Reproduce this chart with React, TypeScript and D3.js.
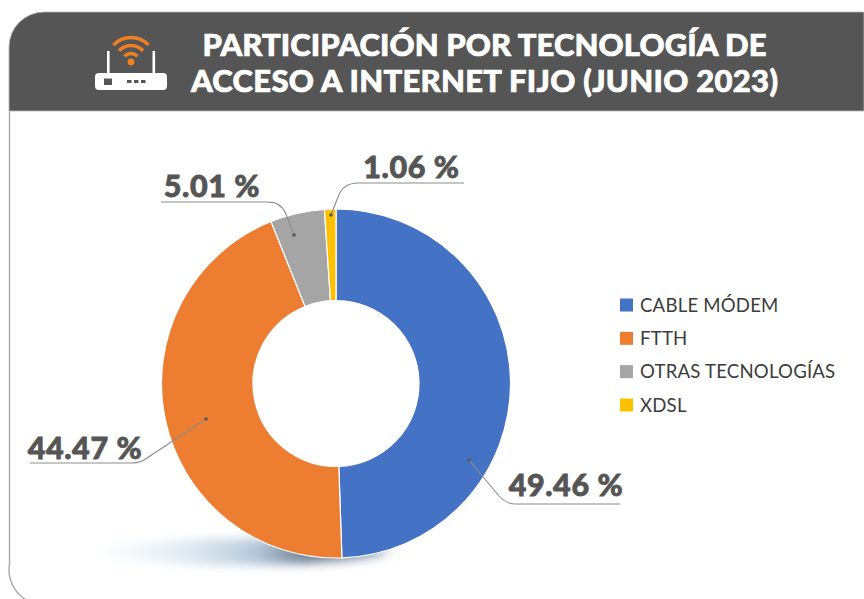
import React from "react";
import * as d3 from "d3";

const categories = ["CABLE MÓDEM", "FTTH", "OTRAS TECNOLOGÍAS", "XDSL"];
const shares = [49.46, 44.47, 5.01, 1.06];
const shareLabels = ["49.46 %", "44.47 %", "5.01 %", "1.06 %"];
const palette = ["#4472C4", "#ED7D31", "#A5A5A5", "#FFC000"];
const titleLines = ["PARTICIPACIÓN POR TECNOLOGÍA DE", "ACCESO A INTERNET FIJO (JUNIO 2023)"];

const W = 864, H = 599;
const cx = 336, cy = 383.5, R = 174.5, r0 = 83;
const ink = "#555555";
const titleWidths = [564, 587];

// Leader layout per slice: anchor dot, elbow, end of rule, text position
const leaders = [
  { d: "M469 460 L499 496 Q506 504 516 504 L620 504", x0: 469, y0: 460, tx: 566, ty: 496 },
  { d: "M206 419 L147 458 Q141 463 132 463 L30 463", x0: 206, y0: 419, tx: 85, ty: 459 },
  { d: "M294 235 L286 214 Q281 202 268 202 L161 202", x0: 294, y0: 235, tx: 212, ty: 197 },
  { d: "M331 215 L338 197 Q343 183 358 183 L464 183", x0: 331, y0: 215, tx: 411.5, ty: 178 },
];

export default function App() {
  const pie = d3.pie<number>().value((d) => d).sort(null);
  const arc = d3.arc<d3.PieArcDatum<number>>().innerRadius(r0).outerRadius(R);
  const arcs = pie(shares);
  const wifi = d3.arc();
  const wifiSpec = [
    { rad: 8.5, a: 0.85 },
    { rad: 16.5, a: 0.82 },
    { rad: 24.5, a: 0.8 },
  ];
  const wifiArcs = wifiSpec.map((s) =>
    wifi({ innerRadius: s.rad - 1.8, outerRadius: s.rad + 1.8, startAngle: -s.a, endAngle: s.a } as any)
  );
  const legendY = d3.scalePoint<string>().domain(categories).range([305, 405]);

  return (
    <svg
      width={W}
      height={H}
      viewBox={`0 0 ${W} ${H}`}
      style={{ position: "absolute", left: 0, top: 0, background: "#fff" }}
    >
      <defs>
        <linearGradient id="shadow" x1="0" x2="1" y1="0" y2="0">
          <stop offset="0" stopColor="#d5e3ef" stopOpacity="0.05" />
          <stop offset="0.3" stopColor="#b9cfe2" stopOpacity="0.4" />
          <stop offset="0.55" stopColor="#98b2c9" stopOpacity="0.7" />
          <stop offset="0.72" stopColor="#66798c" stopOpacity="0.95" />
          <stop offset="1" stopColor="#6d86a0" stopOpacity="0.7" />
        </linearGradient>
        <filter id="blur" x="-20%" y="-100%" width="140%" height="300%">
          <feGaussianBlur stdDeviation="8 5" />
        </filter>
      </defs>

      {/* frame */}
      <path
        d={`M9.5 111 V${H - 35} A35 35 0 0 0 33 ${H + 4}`}
        fill="none"
        stroke="#a8a8a8"
        strokeWidth={1.4}
      />
      <path d={`M9 111 V47 A35 35 0 0 1 44 12 H${W} V111 Z`} fill="#555555" stroke="#b5b5b5" strokeWidth={0.8} />

      {/* router icon */}
      <g>
        <rect x={95} y={73} width={72} height={17} rx={4} fill="#fff" />
        <rect x={107} y={51} width={2.6} height={24} fill="#fff" />
        <rect x={152.5} y={51} width={2.6} height={24} fill="#fff" />
        <rect x={104} y={78.5} width={8} height={6.5} fill="#555555" />
        {[127, 134, 141].map((x) => (
          <rect key={x} x={x} y={80} width={4.5} height={3} fill="#555555" />
        ))}
        <g transform="translate(131,62)" fill="#EE7F22">
          <circle r={3.4} />
          {wifiArcs.map((p, i) => (
            <path key={i} d={p as string} />
          ))}
        </g>
      </g>

      {titleLines.map((t, i) => (
        <text
          key={t}
          x={484.5}
          y={55.5 + i * 36}
          textAnchor="middle"
          textLength={titleWidths[i]}
          lengthAdjust="spacing"
          fill="#fff"
          stroke="#fff"
          strokeWidth={0.7}
          fontFamily="Lato"
          fontWeight={900}
          fontSize={31}
        >
          {t}
        </text>
      ))}

      {/* ground shadow */}
      <ellipse cx={240} cy={552} rx={146} ry={13} fill="url(#shadow)" filter="url(#blur)" />

      {/* ring */}
      {arcs.map((a, i) => (
        <path
          key={categories[i]}
          d={arc(a) as string}
          transform={`translate(${cx},${cy})`}
          fill={palette[i]}
          stroke="#fff"
          strokeWidth={1.2}
        />
      ))}

      {/* leaders and labels */}
      {leaders.map((l, i) => (
        <g key={shareLabels[i]}>
          <path d={l.d} fill="none" stroke="#8c8c8c" strokeWidth={1.1} />
          <circle cx={l.x0} cy={l.y0} r={1.8} fill="#595959" />
          <text
            x={l.tx}
            y={l.ty}
            textAnchor="middle"
            fill={ink}
            stroke={ink}
            strokeWidth={0.8}
            fontFamily="Lato"
            fontWeight={900}
            fontSize={30.5}
            letterSpacing={0.6}
          >
            {shareLabels[i]}
          </text>
        </g>
      ))}

      {/* legend */}
      {categories.map((c, i) => (
        <g key={c}>
          <rect x={620} y={(legendY(c) as number) - 6.5} width={13} height={13} fill={palette[i]} />
          <text
            x={640}
            y={(legendY(c) as number) + 6.5}
            fill="#3c3c3c"
            fontFamily="Lato"
            fontSize={18.6}
            letterSpacing={0.2}
          >
            {c}
          </text>
        </g>
      ))}
    </svg>
  );
}
